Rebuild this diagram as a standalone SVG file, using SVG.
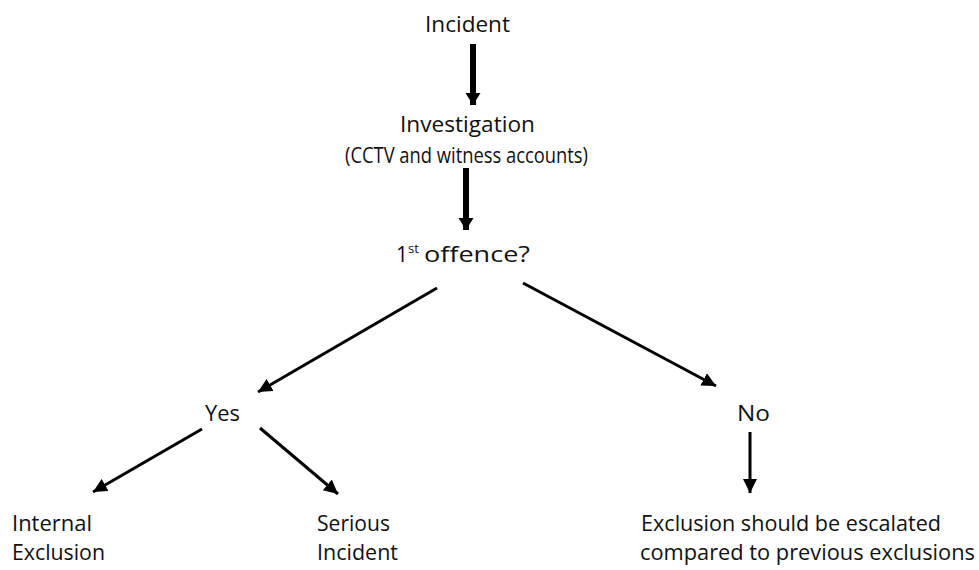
<svg xmlns="http://www.w3.org/2000/svg" width="979" height="570" viewBox="0 0 979 570">
<style>
text{font-family:"Open Sans","Noto Sans","Liberation Sans",sans-serif;font-size:21px;fill:#111}
.ln{stroke:#000;fill:none}
.thick{stroke-width:6}
.thin{stroke-width:3}
</style>
<defs>
<marker id="ah" markerUnits="userSpaceOnUse" markerWidth="16" markerHeight="16" refX="14" refY="7" orient="auto">
<path d="M0,0 L14,7 L0,14 z" fill="#000"/>
</marker>
<marker id="ahT" markerUnits="userSpaceOnUse" markerWidth="16" markerHeight="16" refX="12" refY="7.5" orient="auto">
<path d="M0,0 L12,7.5 L0,15 z" fill="#000"/>
</marker>
</defs>
<rect width="979" height="570" fill="#fff"/>
<g id="connectors">
<line class="ln thick" x1="473" y1="44" x2="473" y2="105" marker-end="url(#ahT)"/>
<line class="ln thick" x1="466" y1="168" x2="466" y2="230" marker-end="url(#ahT)"/>
<line class="ln thin" x1="437" y1="288" x2="258" y2="392" marker-end="url(#ah)"/>
<line class="ln thin" x1="523" y1="283" x2="716" y2="386" marker-end="url(#ah)"/>
<line class="ln thin" x1="202" y1="429" x2="93" y2="492" marker-end="url(#ah)"/>
<line class="ln thin" x1="260" y1="428" x2="338" y2="494" marker-end="url(#ah)"/>
<line class="ln thin" x1="750" y1="432" x2="750" y2="493" marker-end="url(#ah)"/>
</g>
<g id="incident"><text x="425" y="32" textLength="85" lengthAdjust="spacingAndGlyphs">Incident</text></g>
<g id="investigation">
<text x="400" y="132" textLength="135" lengthAdjust="spacingAndGlyphs">Investigation</text>
<text x="345" y="163" textLength="243" lengthAdjust="spacingAndGlyphs">(CCTV and witness accounts)</text>
</g>
<g id="offence"><text x="396" y="262">1<tspan font-size="13" dy="-9">st</tspan><tspan x="424" dy="9" textLength="106" lengthAdjust="spacingAndGlyphs">offence?</tspan></text></g>
<g id="yes"><text x="205" y="421" textLength="35" lengthAdjust="spacingAndGlyphs">Yes</text></g>
<g id="no"><text x="737" y="421" textLength="33" lengthAdjust="spacingAndGlyphs">No</text></g>
<g id="internal">
<text x="12" y="531" textLength="80" lengthAdjust="spacingAndGlyphs">Internal</text>
<text x="12" y="560" textLength="93" lengthAdjust="spacingAndGlyphs">Exclusion</text>
</g>
<g id="serious">
<text x="317" y="531" textLength="73" lengthAdjust="spacingAndGlyphs">Serious</text>
<text x="317" y="560" textLength="81" lengthAdjust="spacingAndGlyphs">Incident</text>
</g>
<g id="escalated">
<text x="641" y="531" textLength="300" lengthAdjust="spacingAndGlyphs">Exclusion should be escalated</text>
<text x="640" y="560" textLength="335" lengthAdjust="spacingAndGlyphs">compared to previous exclusions</text>
</g>
</svg>
